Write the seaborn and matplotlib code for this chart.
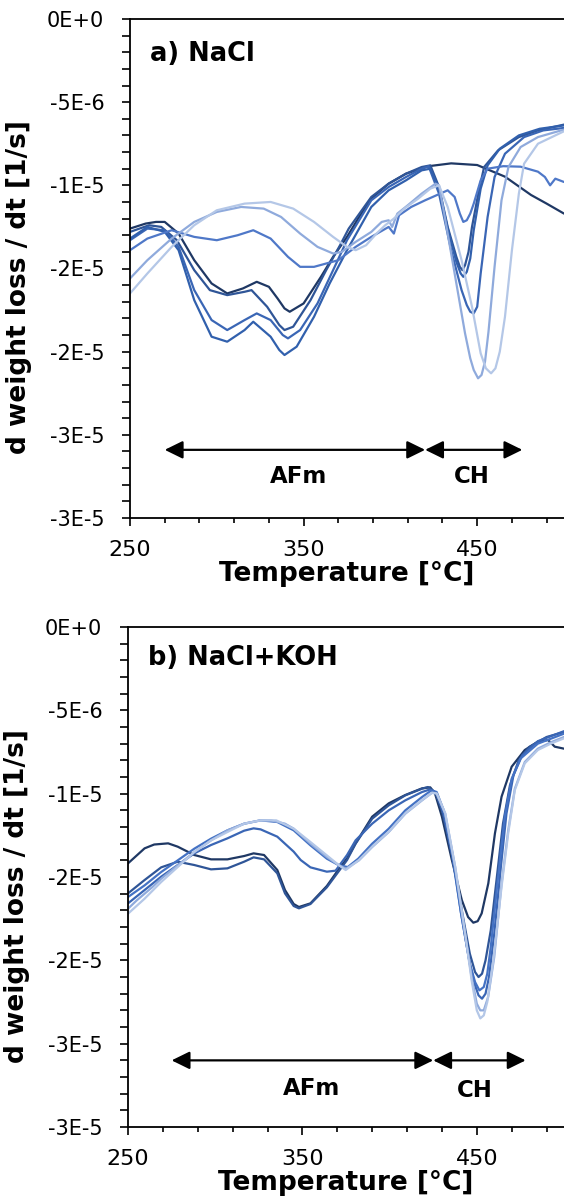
import numpy as np
import pandas as pd
import matplotlib
matplotlib.use('Agg')
import matplotlib.pyplot as plt
import seaborn as sns
from matplotlib.ticker import FixedLocator, MultipleLocator

# DTG curves, values in units of 1e-5 1/s
SCALE = 1e-5

# ---- panel a) NaCl ----
temp_a1 = [250, 259, 265, 270, 278, 287, 297, 306, 315, 323, 330, 335, 339, 342, 350, 360, 367, 375, 382, 389, 399, 409, 422, 435, 450, 466, 481, 490, 500]
dtg_a1 = [-1.26, -1.23, -1.22, -1.22, -1.29, -1.45, -1.59, -1.65, -1.62, -1.58, -1.61, -1.68, -1.74, -1.76, -1.71, -1.55, -1.43, -1.31, -1.19, -1.08, -0.99, -0.93, -0.885, -0.868, -0.878, -0.948, -1.058, -1.11, -1.17]

temp_a2 = [250, 261, 268, 277, 287, 296, 306, 316, 320, 329, 336, 339, 344, 354, 363, 371, 376, 389, 399, 409, 418, 423, 428, 433, 438, 440, 441.5, 443, 445, 447, 451, 454, 462, 474, 485, 500]
dtg_a2 = [-1.28, -1.24, -1.25, -1.33, -1.51, -1.63, -1.66, -1.64, -1.63, -1.73, -1.84, -1.87, -1.85, -1.69, -1.51, -1.36, -1.26, -1.07, -0.99, -0.93, -0.89, -0.88, -1.01, -1.25, -1.43, -1.49, -1.51, -1.48, -1.40, -1.25, -1.03, -0.89, -0.79, -0.71, -0.67, -0.635]

temp_a3 = [250, 260, 270, 278, 287, 297, 306, 316, 323, 331, 338, 341, 348, 358, 367, 375, 389, 399, 409, 418, 422, 428, 435, 441, 444, 446, 448, 450, 452, 456, 460, 466, 477, 488, 500]
dtg_a3 = [-1.33, -1.26, -1.27, -1.37, -1.63, -1.81, -1.87, -1.81, -1.77, -1.81, -1.90, -1.92, -1.87, -1.71, -1.51, -1.33, -1.09, -1.01, -0.95, -0.90, -0.885, -1.05, -1.39, -1.63, -1.72, -1.76, -1.77, -1.73, -1.53, -1.19, -0.95, -0.81, -0.71, -0.67, -0.655]

temp_a4 = [250, 260, 270, 278, 287, 297, 306, 316, 321, 331, 336, 339, 346, 356, 365, 375, 389, 399, 409, 418, 423, 428, 433, 438, 440.5, 442, 444, 446, 448, 452, 456, 463, 474, 486, 500]
dtg_a4 = [-1.32, -1.25, -1.28, -1.39, -1.69, -1.91, -1.94, -1.87, -1.82, -1.91, -1.99, -2.02, -1.97, -1.79, -1.59, -1.39, -1.13, -1.03, -0.97, -0.91, -0.90, -1.02, -1.26, -1.46, -1.53, -1.55, -1.52, -1.44, -1.27, -1.02, -0.88, -0.78, -0.70, -0.66, -0.64]

temp_a5 = [250, 260, 274, 287, 300, 312, 321, 331, 341, 348, 356, 363, 370, 380, 389, 399, 402, 405, 412, 420, 433, 437, 440, 442, 444, 446, 448, 452, 456, 465, 475, 485, 489, 492, 495, 500]
dtg_a5 = [-1.39, -1.32, -1.27, -1.31, -1.33, -1.30, -1.27, -1.32, -1.43, -1.49, -1.49, -1.47, -1.45, -1.37, -1.31, -1.25, -1.29, -1.18, -1.13, -1.09, -1.03, -1.07, -1.17, -1.22, -1.21, -1.17, -1.11, -0.97, -0.90, -0.885, -0.888, -0.918, -0.95, -1.00, -0.96, -0.98]

temp_a6 = [250, 260, 274, 287, 300, 314, 327, 337, 348, 358, 367, 372, 380, 389, 395, 399, 401, 404, 410, 418, 426, 428, 431, 437, 443, 446, 448, 450.5, 452.5, 454.5, 456.5, 460, 464, 468, 475, 485, 500]
dtg_a6 = [-1.56, -1.45, -1.32, -1.22, -1.16, -1.13, -1.14, -1.19, -1.29, -1.37, -1.41, -1.40, -1.34, -1.28, -1.22, -1.21, -1.25, -1.17, -1.12, -1.05, -0.99, -1.00, -1.17, -1.53, -1.89, -2.04, -2.11, -2.16, -2.14, -2.06, -1.88, -1.49, -1.09, -0.89, -0.77, -0.71, -0.665]

temp_a7 = [250, 260, 274, 287, 300, 316, 331, 344, 356, 367, 375, 380, 386, 392, 397, 402, 408, 416, 423, 428, 433, 441, 447, 452, 455, 458, 460.5, 463, 466, 470, 474, 477, 485, 500]
dtg_a7 = [-1.65, -1.53, -1.37, -1.24, -1.15, -1.11, -1.10, -1.14, -1.22, -1.31, -1.37, -1.39, -1.36, -1.29, -1.24, -1.20, -1.14, -1.08, -1.02, -1.00, -1.13, -1.45, -1.73, -2.01, -2.10, -2.13, -2.10, -2.00, -1.79, -1.39, -1.05, -0.87, -0.75, -0.675]

# ---- panel b) NaCl+KOH ----
temp_b1 = [250, 259.5, 265, 273, 278.5, 288, 297.6, 307, 316.6, 322, 328, 335.6, 340, 345, 348, 354.6, 364, 371, 375.6, 380.5, 390, 399.5, 409, 418.6, 423.3, 426, 430, 435.7, 441.4, 445, 448, 450.5, 452.8, 456.6, 460.4, 464.2, 470, 477.5, 485, 490.9, 494.7, 500]
dtg_b1 = [-1.418, -1.328, -1.305, -1.298, -1.318, -1.368, -1.394, -1.394, -1.374, -1.358, -1.368, -1.458, -1.578, -1.662, -1.68, -1.658, -1.554, -1.45, -1.388, -1.298, -1.138, -1.058, -1.008, -0.968, -0.962, -0.998, -1.138, -1.398, -1.638, -1.74, -1.774, -1.765, -1.718, -1.538, -1.238, -1.018, -0.838, -0.738, -0.688, -0.678, -0.718, -0.73]

temp_b2 = [250, 259.5, 269, 278.5, 288, 297.6, 307, 316.6, 322, 328, 335.6, 340, 345, 348, 354.6, 364, 375.6, 380.5, 390, 399.5, 409, 418.6, 422, 426, 430, 435.7, 441.4, 446, 449, 451, 453, 455, 458, 461.5, 465, 469, 474, 480, 490, 500]
dtg_b2 = [-1.598, -1.518, -1.442, -1.408, -1.428, -1.454, -1.448, -1.408, -1.382, -1.394, -1.478, -1.598, -1.674, -1.688, -1.662, -1.562, -1.398, -1.30, -1.15, -1.07, -1.01, -0.97, -0.96, -0.99, -1.10, -1.36, -1.70, -1.96, -2.07, -2.10, -2.08, -2.00, -1.82, -1.50, -1.18, -0.95, -0.80, -0.72, -0.66, -0.63]

temp_b3 = [250, 259.5, 269, 278.5, 288, 297.6, 307, 316.6, 322, 326, 335.6, 345, 349, 354.6, 364, 369, 375.6, 380.5, 390, 399.5, 409, 418.6, 423, 427, 431, 436, 441, 446, 449, 451, 453, 455, 457, 460, 463.5, 467, 471, 476, 485, 500]
dtg_b3 = [-1.658, -1.578, -1.498, -1.428, -1.358, -1.308, -1.268, -1.222, -1.208, -1.214, -1.258, -1.348, -1.398, -1.442, -1.468, -1.462, -1.368, -1.28, -1.18, -1.10, -1.04, -0.99, -0.975, -1.00, -1.12, -1.38, -1.72, -2.02, -2.15, -2.21, -2.23, -2.20, -2.10, -1.84, -1.47, -1.12, -0.89, -0.77, -0.685, -0.625]

temp_b4 = [250, 259.5, 269, 278.5, 288, 297.6, 307, 316.6, 326, 335.6, 345, 354.6, 364, 371, 376, 382, 390, 399.5, 409, 418.6, 424, 427, 431, 436, 441, 446, 449, 451.5, 454, 456, 458, 462, 466, 470, 475, 485, 500]
dtg_b4 = [-1.62, -1.55, -1.47, -1.40, -1.33, -1.27, -1.22, -1.18, -1.16, -1.17, -1.22, -1.31, -1.39, -1.43, -1.44, -1.39, -1.30, -1.21, -1.10, -1.02, -0.98, -0.99, -1.10, -1.36, -1.72, -2.02, -2.13, -2.18, -2.16, -2.08, -1.92, -1.52, -1.14, -0.91, -0.79, -0.70, -0.64]

temp_b5 = [250, 255, 259.5, 264, 269, 278.5, 288, 297.6, 307, 316.6, 326, 332, 340, 345, 354.6, 364, 371, 375, 382.4, 390, 399.5, 409, 418.6, 424.3, 427, 431.9, 437.6, 443.3, 447, 450, 452, 454, 456.5, 460, 464.2, 468, 471.8, 477.5, 485, 492.8, 500]
dtg_b5 = [-1.69, -1.64, -1.60, -1.56, -1.51, -1.43, -1.35, -1.28, -1.22, -1.18, -1.16, -1.16, -1.18, -1.21, -1.30, -1.38, -1.43, -1.45, -1.40, -1.32, -1.23, -1.12, -1.04, -0.995, -1.00, -1.12, -1.44, -1.84, -2.10, -2.26, -2.30, -2.30, -2.22, -1.98, -1.54, -1.22, -0.97, -0.81, -0.73, -0.69, -0.66]

temp_b6 = [250, 259.5, 269, 278.5, 288, 297.6, 307, 316.6, 326, 335, 345, 354.6, 364, 371, 374.8, 382.4, 390, 399.5, 409, 418.6, 424.3, 427, 431.9, 437.6, 443.3, 447, 450, 452, 454, 456, 459.5, 464.2, 468, 471.8, 477.5, 485, 492.8, 500]
dtg_b6 = [-1.72, -1.63, -1.53, -1.44, -1.35, -1.28, -1.23, -1.18, -1.16, -1.16, -1.21, -1.29, -1.37, -1.43, -1.458, -1.398, -1.318, -1.228, -1.118, -1.038, -0.994, -0.998, -1.118, -1.438, -1.838, -2.118, -2.30, -2.348, -2.33, -2.25, -1.998, -1.558, -1.238, -0.978, -0.818, -0.738, -0.698, -0.668]

colors_a = ['#1f3864', '#2f5597', '#3a66b5', '#3160ad', '#4f78c8', '#8faadc', '#b4c7e7']
colors_b = ['#1f3864', '#2f5597', '#3a66b5', '#4472c4', '#8faadc', '#b4c7e7']

titles = ['a) NaCl', 'b) NaCl+KOH']
ytick_values = [0, -5e-6, -1e-5, -1.5e-5, -2e-5, -2.5e-5, -3e-5]
ytick_labels = ['0E+0', '-5E-6', '-1E-5', '-2E-5', '-2E-5', '-3E-5', '-3E-5']
xtick_values = [250, 350, 450]

# region arrows: (start, end) in degC, y level, label positions
afm_span = [(270, 420), (275, 425)]
ch_span = [(420, 476), (425, 478)]
arrow_y = [-2.59e-5, -2.60e-5]
afm_label = [(347, -2.75e-5), (355, -2.77e-5)]
ch_label = [(447, -2.75e-5), (449, -2.78e-5)]

curves_a = [(temp_a1, dtg_a1), (temp_a2, dtg_a2), (temp_a3, dtg_a3), (temp_a4, dtg_a4),
            (temp_a5, dtg_a5), (temp_a6, dtg_a6), (temp_a7, dtg_a7)]
curves_b = [(temp_b1, dtg_b1), (temp_b2, dtg_b2), (temp_b3, dtg_b3),
            (temp_b4, dtg_b4), (temp_b5, dtg_b5), (temp_b6, dtg_b6)]


def to_frame(curves):
    rows = []
    for i, (t, v) in enumerate(curves):
        for x, y in zip(t, v):
            rows.append({'sample': i, 'temp': x, 'dtg': y * SCALE})
    return pd.DataFrame(rows)


sns.set_theme(style='white')
plt.rcParams['font.family'] = ['DejaVu Sans']
plt.rcParams['text.color'] = 'black'
plt.rcParams['axes.labelcolor'] = 'black'
plt.rcParams['xtick.color'] = 'black'
plt.rcParams['ytick.color'] = 'black'

fig = plt.figure(figsize=(5.64, 12), dpi=100)
ax_a = fig.add_axes([0.2305, 0.5683, 0.7695, 0.4159])
ax_b = fig.add_axes([0.2270, 0.0608, 0.7730, 0.4167])

panels = [(ax_a, to_frame(curves_a), colors_a), (ax_b, to_frame(curves_b), colors_b)]

for k, (ax, df, cols) in enumerate(panels):
    sns.lineplot(data=df, x='temp', y='dtg', hue='sample', palette=cols,
                 estimator=None, sort=False, legend=False, linewidth=1.6, ax=ax)

    ax.set_xlim(250, 500)
    ax.set_ylim(-3e-5, 0)
    ax.set_xticks(xtick_values)
    ax.set_xticklabels([str(v) for v in xtick_values])
    ax.xaxis.set_minor_locator(FixedLocator(np.arange(250, 500, 20)))
    ax.set_yticks(ytick_values)
    ax.set_yticklabels(ytick_labels)
    ax.yaxis.set_minor_locator(MultipleLocator(1e-6))

    ax.tick_params(axis='x', which='major', direction='out', length=5.5, width=1.2,
                   labelsize=16, pad=10, colors='black', bottom=True)
    ax.tick_params(axis='x', which='minor', direction='out', length=3.5, width=1.2,
                   colors='black', bottom=True)
    ax.tick_params(axis='y', which='both', direction='out', length=5.5, width=1.2,
                   labelsize=15, pad=13, colors='black', left=True)

    for side in ['left', 'bottom', 'top']:
        ax.spines[side].set_color('black')
        ax.spines[side].set_linewidth(1.3)
    ax.spines['right'].set_visible(False)

    ax.set_xlabel('Temperature [°C]', fontsize=19, fontweight='bold', labelpad=1,
                  color='black')
    ax.set_ylabel('d weight loss / dt [1/s]', fontsize=19, fontweight='bold', color='black')
    ax.yaxis.set_label_coords(-0.225, 0.462)

    ax.text(0.046, 0.955 if k == 0 else 0.964, titles[k], transform=ax.transAxes,
            fontsize=18.5, fontweight='bold', va='top', ha='left', color='black')

    arrow_kw = dict(arrowstyle='<|-|>,head_length=0.55,head_width=0.27', color='black',
                    lw=1.6, shrinkA=0, shrinkB=0, mutation_scale=20)
    ax.annotate('', xy=(afm_span[k][1], arrow_y[k]), xytext=(afm_span[k][0], arrow_y[k]),
                arrowprops=arrow_kw)
    ax.annotate('', xy=(ch_span[k][1], arrow_y[k]), xytext=(ch_span[k][0], arrow_y[k]),
                arrowprops=arrow_kw)
    ax.text(afm_label[k][0], afm_label[k][1], 'AFm', fontsize=16.5, fontweight='bold',
            ha='center', va='center', color='black')
    ax.text(ch_label[k][0], ch_label[k][1], 'CH', fontsize=16.5, fontweight='bold',
            ha='center', va='center', color='black')

fig.savefig('out.png', dpi=100)
plt.close(fig)
